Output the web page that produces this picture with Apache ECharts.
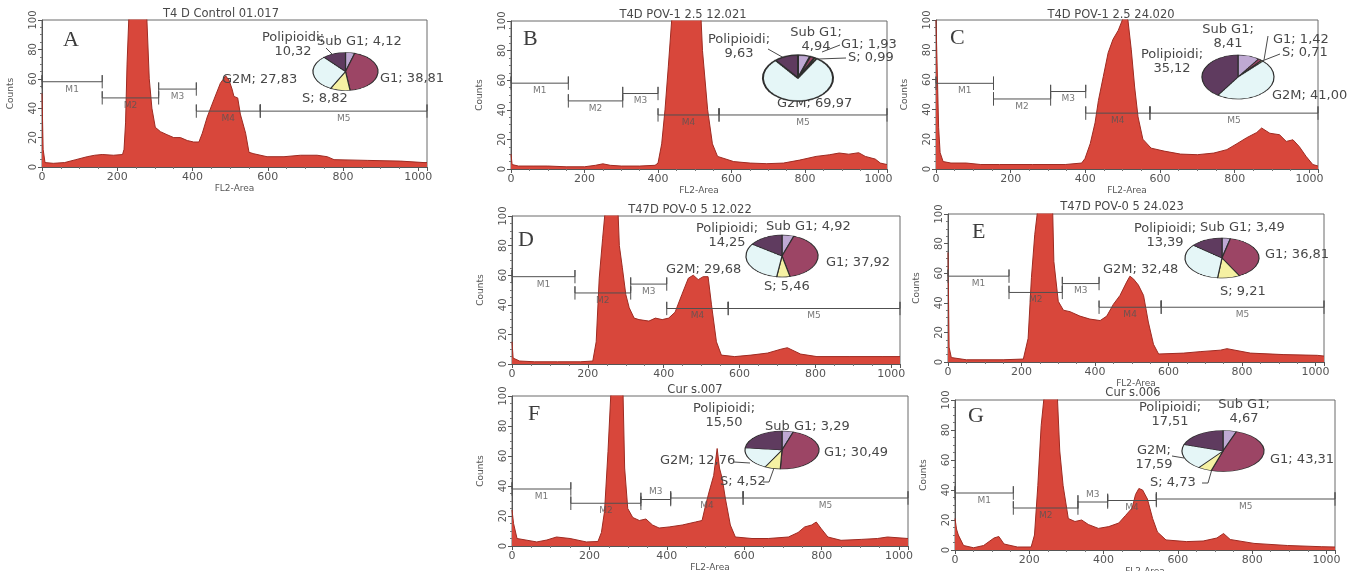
<!DOCTYPE html>
<html>
<head>
<meta charset="utf-8">
<script src="https://cdn.jsdelivr.net/npm/echarts@6.0.0/dist/echarts.min.js"></script>
<style>
html, body { margin: 0; padding: 0; background: #fff; }
#main { position: absolute; left: 0; top: 0; width: 1359px; height: 571px; }
.pie { position: absolute; }
</style>
</head>
<body>
<div id="main"></div>
<script>
// FL2-Area channel vs counts (tops above 100 are off-scale)
var histA = [[0,50],[3,12],[8,3],[30,2.5],[60,3],[90,5],[120,7],[140,8],[160,8.5],[190,8],[214,8.5],[218,12],[222,30],[226,70],[232,110],[240,140],[270,140],[278,105],[285,60],[292,40],[301,27],[315,24],[332,22],[350,20],[368,20],[386,18],[403,17],[417,17],[426,23],[439,34],[457,46],[474,57],[488,62],[497,59],[505,53],[510,48],[520,47],[527,36],[541,23],[550,10],[563,9],[598,7],[643,7],[687,8],[731,8],[758,7],[776,5],[864,4.5],[953,4],[1015,3],[1023,3]];
var histB = [[0,10],[3,3],[20,2],[60,2],[100,2],[150,1.5],[200,1.5],[230,2.5],[250,3.5],[270,2.5],[300,2],[350,2],[392,2.5],[400,4],[410,17],[419,40],[428,69],[437,100],[445,140],[510,140],[521,80],[535,40],[548,17],[562,8.5],[606,5],[651,4],[696,3.6],[741,4],[785,6],[830,8.5],[866,9.6],[893,10.8],[919,10],[946,11],[964,8.5],[991,6.7],[1005,4],[1023,3]];
var histC = [[0,100],[4,100],[7,28],[11,11],[19,5],[40,4],[81,4],[120,3],[170,3],[258,3],[346,3],[390,4],[399,7],[413,17],[426,31],[435,46],[448,62],[461,78],[474,87],[488,93],[496,98],[505,104],[514,100],[523,80],[532,55],[541,35],[554,20],[576,14],[611,12],[655,10],[700,9.6],[744,10.7],[779,13],[806,17],[832,21],[859,24.5],[872,27.5],[894,24],[920,23],[938,18.5],[956,19.6],[973,15],[991,8.5],[1009,3],[1023,2]];
var histD = [[0,15],[3,4],[20,2],[60,1.5],[120,1.5],[180,1.5],[213,2],[222,15],[230,58],[239,85],[248,110],[255,140],[272,140],[280,100],[283,80],[291,65],[300,47],[309,38],[322,31],[335,30],[361,29],[378,31],[396,30],[413,31],[430,35],[448,47],[465,58],[478,60],[491,57],[504,59],[517,59],[526,40],[539,15],[552,6],[587,5],[630,6],[674,7.4],[709,10],[726,11],[761,6.7],[804,5],[891,5],[978,5],[1023,5]];
var histE = [[0,74],[3,10],[9,3],[50,1.5],[150,1.5],[205,2],[218,16],[227,57],[236,86],[245,105],[252,140],[280,140],[285,100],[288,68],[300,41],[314,35],[332,34],[359,31],[386,29],[414,28],[432,31],[450,39],[468,45],[486,54],[495,58],[505,56],[518,52],[532,45],[545,27],[559,12],[573,5.4],[641,6],[686,7],[741,8],[759,9],[823,6],[914,5],[1005,4.5],[1023,4]];
var histF = [[0,24],[4,15],[13,5],[64,2.7],[90,4],[115,6],[150,5],[192,2.7],[222,3],[231,9],[239,23],[248,63],[256,105],[262,140],[282,140],[287,100],[291,52],[299,25],[312,19],[329,17],[346,18],[363,14],[380,12],[406,12.7],[440,14],[474,16],[491,17],[500,27],[509,36],[521,47],[530,65],[536,52],[543,45],[551,32],[564,14],[577,6],[620,5],[662,5],[714,6],[739,9],[756,12.7],[774,14],[786,16],[799,11.5],[816,6],[850,3.8],[902,4.4],[944,5],[970,6],[1023,5]];
var histG = [[0,21],[4,14],[9,10],[23,3],[50,1.5],[77,3],[105,8],[118,9],[132,4],[168,2],[205,2],[214,10],[223,43],[232,83],[241,105],[246,140],[268,140],[276,100],[282,66],[291,43],[305,21],[323,19],[341,20],[359,17],[386,14.4],[414,15.6],[441,18],[459,23],[477,28],[486,37],[495,41],[505,40],[518,34],[532,21],[545,12],[568,6.7],[623,5.6],[668,6],[705,8],[723,11],[741,7],[805,4.4],[895,3],[986,2.2],[1023,2]];

// marker gates M1..M5: [from channel, to channel, drawn at count level]
var gatesA = [[0,160,58],[160,310,47],[310,410,53],[410,580,38],[580,1023,38]];
var gatesB = [[0,156,58],[156,304,46],[304,400,51],[400,566,36.5],[566,1023,36.5]];
var gatesC = [[0,154,57.5],[154,307,47],[307,401,52],[401,573,37.5],[573,1023,37.5]];
var gatesD = [[0,166,59],[166,313,48],[313,408,54],[408,570,37.5],[570,1023,37.5]];
var gatesE = [[0,166,58],[166,311,47],[311,411,53],[411,580,37],[580,1023,37]];
var gatesF = [[0,152,38],[152,333,28.5],[333,410,31],[410,597,32],[597,1023,32]];
var gatesG = [[0,157,38],[157,331,28],[331,411,32],[411,542,33],[542,1023,34]];

// cell cycle phases (%)
var phaseNames = ['Sub G1', 'G1', 'S', 'G2M', 'Polipioidi'];
var pieA = [4.12, 38.81, 8.82, 27.83, 10.32];
var pieB = [4.94, 1.93, 0.99, 69.97, 9.63];
var pieC = [8.41, 1.42, 0.71, 41.00, 35.12];
var pieD = [4.92, 37.92, 5.46, 29.68, 14.25];
var pieE = [3.49, 36.81, 9.21, 32.48, 13.39];
var pieF = [3.29, 30.49, 4.52, 12.76, 15.50];
var pieG = [4.67, 43.31, 4.73, 17.59, 17.51];

var titles = ['T4 D Control 01.017', 'T4D POV-1 2.5 12.021', 'T4D POV-1 2.5 24.020',
    'T47D POV-0 5 12.022', 'T47D POV-0 5 24.023', 'Cur s.007', 'Cur s.006'];
var letters = ['A', 'B', 'C', 'D', 'E', 'F', 'G'];

var pieColors = ['#bfa9d3', '#9c4565', '#f5f1a3', '#e5f6f7', '#5f3b5f'];
var fill = '#d8473b', edge = '#9e2b22', ink = '#555';

// layout: grid [left, top, width, height], pie [cx, cy, rx, ry],
// labels [phase index, x, y, 1 = one line left aligned / 2 = two lines centred]
var panels = [
    {hist: histA, gates: gatesA, pie: pieA, grid: [42, 20, 385, 147], titleAt: [221, 14], letterAt: [63, 40],
        pieAt: [345, 71, 32.5, 19], xName: true,
        labels: [[4, 293, 45, 2], [0, 317, 42, 1], [1, 380, 79, 1], [3, 222, 80, 1], [2, 302, 99, 1]],
        lines: [[[326, 48], [333, 55]]]},
    {hist: histB, gates: gatesB, pie: pieB, grid: [511, 21, 376, 148], titleAt: [683, 15], letterAt: [523, 39],
        pieAt: [798, 78, 35, 23], ring: 2, xName: true,
        labels: [[4, 739, 47, 2], [0, 816, 40, 2], [1, 841, 45, 1], [2, 848, 58, 1], [3, 777, 104, 1]],
        lines: [[[768, 49], [784, 58]], [[822, 52], [840, 45]], [[818, 59], [846, 58]]]},
    {hist: histC, gates: gatesC, pie: pieC, grid: [936, 20, 382, 149], titleAt: [1111, 15], letterAt: [950, 38],
        pieAt: [1238, 77, 36, 22], xName: true,
        labels: [[0, 1228, 36.5, 2], [1, 1273, 40, 1], [2, 1282, 53, 1], [4, 1172, 61.5, 2], [3, 1272, 96, 1]],
        lines: [[[1268, 36], [1264, 60]], [[1262, 61], [1280, 54]]]},
    {hist: histD, gates: gatesD, pie: pieD, grid: [512, 216, 388, 148], titleAt: [690, 210], letterAt: [518, 240],
        pieAt: [782, 256, 36, 21], xName: false,
        labels: [[4, 727, 235.5, 2], [0, 766, 227, 1], [1, 826, 263, 1], [3, 666, 270, 1], [2, 764, 287, 1]],
        lines: []},
    {hist: histE, gates: gatesE, pie: pieE, grid: [948, 214, 376, 148], titleAt: [1122, 207], letterAt: [972, 232],
        pieAt: [1222, 258, 37, 20], xName: true,
        labels: [[4, 1165, 236, 2], [0, 1200, 228, 1], [1, 1265, 255, 1], [3, 1103, 270, 1], [2, 1220, 292, 1]],
        lines: []},
    {hist: histF, gates: gatesF, pie: pieF, grid: [512, 396, 396, 150], titleAt: [695, 390], letterAt: [528, 414],
        pieAt: [782, 450, 37, 19], xName: true, m3Above: true,
        labels: [[4, 724, 415.5, 2], [0, 765, 427, 1], [1, 824, 453, 1], [3, 660, 461, 1], [2, 720, 482, 1]],
        lines: [[[734, 462], [750, 463]], [[763, 482], [769, 482], [774, 468]]]},
    {hist: histG, gates: gatesG, pie: pieG, grid: [955, 400, 380, 150], titleAt: [1133, 393], letterAt: [968, 416],
        pieAt: [1223, 451, 41, 20.5], xName: true, m3Above: true,
        labels: [[4, 1170, 415, 2], [0, 1244, 411.5, 2], [3, 1154, 457.5, 2], [1, 1270, 460, 1], [2, 1150, 483, 1]],
        lines: [[[1172, 456], [1184, 458]], [[1202, 483], [1208, 483], [1212, 469]]]}
];

function fmt(v) {
    return v.toFixed(2).replace('.', ',');
}

function text(x, y, str, font, align) {
    return {
        type: 'text', x: x, y: y, silent: true, z: 10,
        style: {
            text: str, font: font, fill: '#484848',
            align: align, textAlign: align, verticalAlign: 'middle', textVerticalAlign: 'middle',
            lineHeight: 14
        }
    };
}

var grids = [], xAxes = [], yAxes = [], series = [], graphics = [];

panels.forEach(function (p, i) {
    grids.push({
        left: p.grid[0], top: p.grid[1], width: p.grid[2], height: p.grid[3],
        show: true, borderColor: '#6b6b6b', borderWidth: 1, backgroundColor: '#fff',
        outerBoundsMode: 'none', containLabel: false
    });
    xAxes.push({
        gridIndex: i, type: 'value', min: 0, max: 1023, interval: 200,
        name: p.xName ? 'FL2-Area' : '', nameLocation: 'middle', nameGap: 17,
        nameTextStyle: {fontSize: 9, color: ink, fontFamily: 'DejaVu Sans'},
        axisLine: {lineStyle: {color: '#555'}},
        axisTick: {length: 4, lineStyle: {color: '#555'}},
        minorTick: {show: true, splitNumber: 4, length: 2, lineStyle: {color: '#777'}},
        axisLabel: {fontSize: 11, color: ink, fontFamily: 'DejaVu Sans', margin: 5, showMaxLabel: false,
            formatter: function (v) { return String(v); }},
        splitLine: {show: false}
    });
    yAxes.push({
        gridIndex: i, type: 'value', min: 0, max: 100, interval: 20,
        name: 'Counts', nameLocation: 'middle', nameGap: 27, nameRotate: 90,
        nameTextStyle: {fontSize: 9, color: ink, fontFamily: 'DejaVu Sans'},
        axisLine: {lineStyle: {color: '#555'}},
        axisTick: {length: 4, lineStyle: {color: '#555'}},
        minorTick: {show: true, splitNumber: 4, length: 2, lineStyle: {color: '#777'}},
        axisLabel: {fontSize: 10, color: ink, fontFamily: 'DejaVu Sans', margin: 4, rotate: 90},
        splitLine: {show: false}
    });
    series.push({
        type: 'line', xAxisIndex: i, yAxisIndex: i, data: p.hist, symbol: 'none', silent: true, z: 2,
        lineStyle: {color: edge, width: 1}, areaStyle: {color: fill, opacity: 1}
    });
    p.gates.forEach(function (g) {
        var c = 4.5;
        series.push({
            type: 'line', xAxisIndex: i, yAxisIndex: i, symbol: 'none', silent: true, z: 3,
            data: [[g[0], g[2] - c], [g[0], g[2] + c], [g[0], g[2]], [g[1], g[2]], [g[1], g[2] + c], [g[1], g[2] - c]],
            lineStyle: {color: '#505050', width: 1}
        });
    });
    series.push({
        type: 'scatter', xAxisIndex: i, yAxisIndex: i, symbolSize: 0, silent: true, z: 4,
        data: p.gates.map(function (g, k) {
            return {
                name: 'M' + (k + 1), value: [(g[0] + g[1]) / 2, g[2]],
                label: {position: (p.m3Above && k === 2) ? 'top' : 'bottom'}
            };
        }),
        label: {show: true, formatter: '{b}', fontSize: 9, color: ink, fontFamily: 'DejaVu Sans', distance: 3}
    });

    graphics.push(text(p.titleAt[0], p.titleAt[1], titles[i], '11.5px "DejaVu Sans"', 'center'));
    graphics.push({
        type: 'text', x: p.letterAt[0], y: p.letterAt[1], silent: true, z: 10,
        style: {text: letters[i], font: '22px "Liberation Serif"', fill: '#3c3c3c',
            align: 'left', textAlign: 'left', verticalAlign: 'middle', textVerticalAlign: 'middle'}
    });
    p.labels.forEach(function (l) {
        var name = phaseNames[l[0]], val = fmt(p.pie[l[0]]);
        var str = l[3] === 2 ? name + ';\n' + val : name + '; ' + val;
        graphics.push(text(l[1], l[2], str, '13px "DejaVu Sans"', l[3] === 2 ? 'center' : 'left'));
    });
    p.lines.forEach(function (pts) {
        graphics.push({type: 'polyline', silent: true, z: 9, shape: {points: pts},
            style: {stroke: '#4a4a4a', lineWidth: 1, fill: null}});
    });
});

var chart = echarts.init(document.getElementById('main'));
chart.setOption({
    animation: false,
    backgroundColor: '#fff',
    grid: grids,
    xAxis: xAxes,
    yAxis: yAxes,
    series: series,
    graphic: {elements: graphics}
});

// the pies are drawn tilted (elliptical) in the figure: each one gets its own squashed chart
panels.forEach(function (p) {
    var cx = p.pieAt[0], cy = p.pieAt[1], rx = p.pieAt[2], ry = p.pieAt[3];
    var w = Math.ceil(2 * rx + 8);
    var div = document.createElement('div');
    div.className = 'pie';
    div.style.width = w + 'px';
    div.style.height = w + 'px';
    div.style.left = (cx - w / 2) + 'px';
    div.style.top = (cy - w / 2) + 'px';
    div.style.transform = 'scaleY(' + (ry / rx) + ')';
    div.style.transformOrigin = '50% 50%';
    document.body.appendChild(div);
    var pc = echarts.init(div);
    pc.setOption({
        animation: false,
        series: [{
            type: 'pie', radius: rx, center: ['50%', '50%'], startAngle: 90, clockwise: true,
            silent: true, label: {show: false}, labelLine: {show: false},
            itemStyle: {borderColor: '#2e2e2e', borderWidth: p.ring || 1.2},
            data: p.pie.map(function (v, k) {
                return {value: v, name: phaseNames[k], itemStyle: {color: pieColors[k]}};
            })
        }]
    });
});
</script>
</body>
</html>
